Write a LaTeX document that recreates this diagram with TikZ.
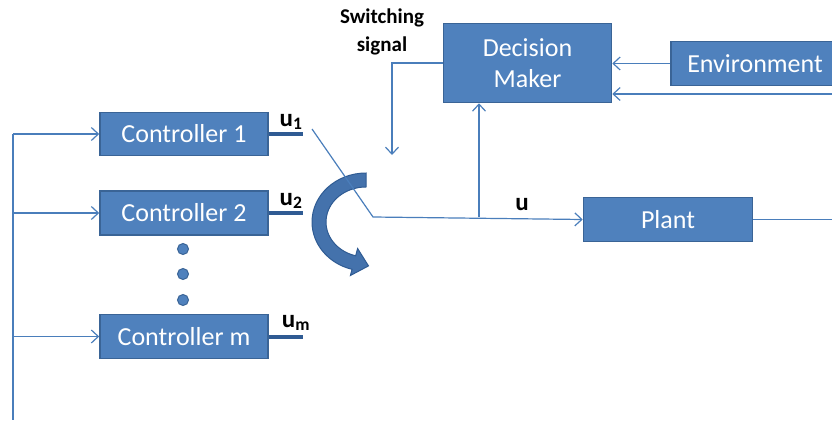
\documentclass[tikz,border=0pt]{standalone}
\usepackage{fontspec}
\setmainfont{Carlito}
\usetikzlibrary{arrows.meta}
\definecolor{boxfill}{HTML}{4F81BD}
\definecolor{boxedge}{HTML}{3A6496}
\definecolor{wire}{HTML}{4A7EBB}
\definecolor{stub}{HTML}{2F5B93}
\definecolor{swfill}{HTML}{4472AC}
\begin{document}
\begin{tikzpicture}[x=1pt,y=1pt,
  block/.style={rectangle, fill=boxfill, draw=boxedge, line width=1.6pt,
    text=white, font=\fontsize{26}{31}\selectfont, align=center, inner sep=0pt},
  wireline/.style={draw=wire, line width=1.2pt},
  arr/.style={wireline, -{Straight Barb[length=7pt,width=13pt,line width=1.2pt]}},
  stubline/.style={draw=stub, line width=4pt},
  lbl/.style={font=\bfseries\fontsize{25}{28}\selectfont, text=black, inner sep=0pt},
  dotmark/.style={circle, fill=boxfill, draw=boxedge, line width=1pt, minimum size=11pt, inner sep=0pt}]
\useasboundingbox (0,0) rectangle (832,-425);
\clip (0,0) rectangle (832,-425);

% blocks
\node[block, minimum width=168pt, minimum height=43pt] (c1) at (184,-134) {Controller 1};
\node[block, minimum width=168pt, minimum height=44pt] (c2) at (184,-213) {Controller 2};
\node[block, minimum width=168pt, minimum height=44pt] (cm) at (184,-336.5) {Controller m};
\node[block, minimum width=168pt, minimum height=79pt] (dm) at (527.5,-63) {Decision\\Maker};
\node[block, minimum width=168pt, minimum height=44pt] (env) at (755,-63.5) {Environment};
\node[block, minimum width=169pt, minimum height=44pt] (plant) at (668,-219.5) {Plant};

% dots between controllers
\node[dotmark] (d1) at (183,-249) {};
\node[dotmark] (d2) at (183,-274) {};
\node[dotmark] (d3) at (183,-300) {};

% controller outputs
\draw[stubline] (c1.east) -- ++(34,0) coordinate (o1);
\draw[stubline] (c2.east) -- ++(34,0) coordinate (o2);
\draw[stubline] (cm.east) -- ++(34,0) coordinate (om);
\node[lbl] (lu1) at (291,-122) {u\textsubscript{1}};
\node[lbl] (lu2) at (291,-201) {u\textsubscript{2}};
\node[lbl] (lum) at (296,-323) {u\textsubscript{m}};

% switching arrow
\fill[swfill, draw=stub, line width=1pt]
  (366,-173) arc[start angle=90, end angle=255, x radius=54, y radius=49]
  -- (350.4,-275.5) -- (368.5,-265.9) -- (357.6,-248.5) -- (355.65,-255.8)
  arc[start angle=255, end angle=90, x radius=40, y radius=35] -- cycle;

% switch and control signal
\coordinate (s1) at (312,-129);
\coordinate (s2) at (373,-217);
\coordinate (j) at (479,-217);
\draw[arr] (s1) -- (s2) -- (plant.west);
\draw[arr] (j) -- (j |- dm.south);
\node[lbl] (lu) at (522,-205) {u};

% switching signal
\coordinate (ss) at (392,-155);
\draw[arr] (dm.west) -| (ss);
\node[font=\bfseries\fontsize{21}{28}\selectfont, align=center, inner sep=0pt] (sstext) at (382,-32) {Switching\\signal};

% environment and measured output to the decision maker
\draw[arr] (env.west) -- (env.west -| dm.east);
\coordinate (r1) at (845,-94);
\draw[arr] (r1) -- (r1 -| dm.east);
\coordinate (po) at (845,-219.5);
\draw[wireline] (plant.east) -- (po);

% feedback to the controllers
\coordinate (ftop) at (13,-134);
\coordinate (fbot) at (13,-420);
\draw[wireline] (ftop) -- (fbot);
\draw[arr] (ftop) -- (c1.west);
\draw[arr] (13,-213) -- (c2.west);
\draw[arr] (13,-336.5) -- (cm.west);
\end{tikzpicture}
\end{document}
